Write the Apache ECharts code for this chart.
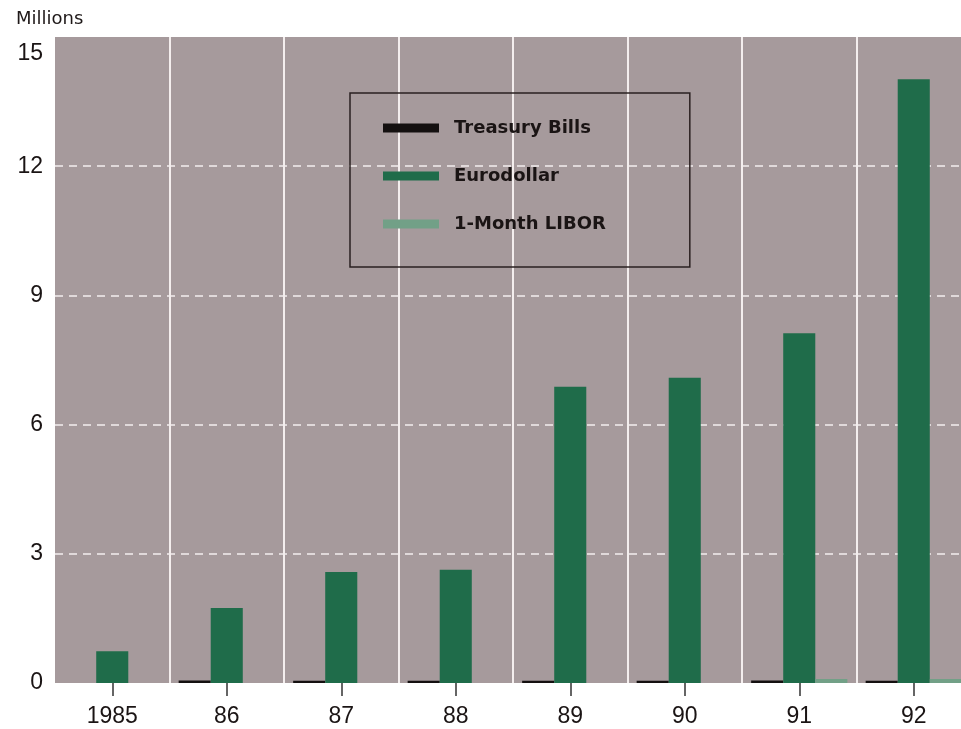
<!DOCTYPE html>
<html>
<head>
<meta charset="utf-8">
<script src="https://cdn.jsdelivr.net/npm/echarts@6/dist/echarts.min.js"></script>
<style>
  html, body { margin: 0; padding: 0; background: #ffffff; }
  #chart { width: 961px; height: 729px; }
</style>
</head>
<body>
<div id="chart"></div>
<script>
// Annual contract volume, in millions
const years = ['1985', '86', '87', '88', '89', '90', '91', '92'];
const treasuryBills = [0, 0.06, 0.05, 0.05, 0.05, 0.05, 0.06, 0.05];
const eurodollar = [0.74, 1.74, 2.58, 2.63, 6.88, 7.09, 8.12, 14.02];
const libor = [0, 0, 0, 0, 0, 0, 0.09, 0.09];
const yTicks = [0, 3, 6, 9, 12, 15];

const font = 'Liberation Sans, Arial, Helvetica, sans-serif';
const wideFont = 'DejaVu Sans, Verdana, sans-serif';
const plotBg = '#a69a9c';
const gridWhite = '#f4eeee';

const chart = echarts.init(document.getElementById('chart'));

// outer gridlines are hidden so that only 3..12 show as dashes
const hLineColors = yTicks.map((v, i) => (i === 0 || i === yTicks.length - 1) ? 'rgba(0,0,0,0)' : gridWhite);
const vLineColors = ['rgba(0,0,0,0)'].concat(years.map(() => gridWhite));

chart.setOption({
  animation: false,
  backgroundColor: '#ffffff',
  textStyle: { fontFamily: font },
  title: {
    text: 'Millions',
    left: 11,
    top: 5,
    textStyle: { fontSize: 18, fontWeight: 'normal', color: '#1e1818', fontFamily: wideFont }
  },
  legend: {
    orient: 'vertical',
    left: 350,
    top: 93,
    padding: [26, 84, 34, 33],
    itemWidth: 56,
    itemHeight: 9,
    itemGap: 30,
    borderColor: '#2a2020',
    borderWidth: 1.5,
    textStyle: { fontSize: 18, fontWeight: 'bold', color: '#1a1414', fontFamily: wideFont, padding: [0, 0, 0, 10] },
    data: [
      { name: 'Treasury Bills', icon: 'rect' },
      { name: 'Eurodollar', icon: 'rect' },
      { name: '1-Month LIBOR', icon: 'rect' }
    ]
  },
  grid: {
    left: 55,
    width: 916,
    top: 37,
    bottom: 46,
    outerBoundsMode: 'none',
    show: true,
    backgroundColor: plotBg,
    borderWidth: 0
  },
  xAxis: {
    type: 'category',
    data: years,
    axisLine: { show: false },
    axisTick: {
      show: true,
      alignWithLabel: true,
      length: 13,
      lineStyle: { color: '#333', width: 1.5 }
    },
    axisLabel: { fontSize: 23, color: '#1a1414', margin: 22, fontFamily: font },
    splitLine: { show: true, interval: 0, lineStyle: { color: vLineColors, width: 2 } }
  },
  yAxis: {
    type: 'value',
    min: yTicks[0],
    max: yTicks[yTicks.length - 1],
    interval: 3,
    axisLine: { show: false },
    axisTick: { show: false },
    axisLabel: {
      fontSize: 23,
      color: '#1a1414',
      margin: 12,
      fontFamily: font,
      formatter: v => (v === yTicks[yTicks.length - 1] ? '{top|' + v + '}' : String(v)),
      rich: { top: { fontSize: 23, fontFamily: font, color: '#1a1414', padding: [34, 0, 0, 0] } }
    },
    splitLine: { show: true, lineStyle: { color: hLineColors, width: 1.5, type: [8, 6] } }
  },
  series: [
    {
      name: 'Treasury Bills',
      type: 'bar',
      data: treasuryBills,
      itemStyle: { color: '#141010' },
      barGap: '0%',
      barCategoryGap: '16%'
    },
    {
      name: 'Eurodollar',
      type: 'bar',
      data: eurodollar,
      itemStyle: { color: '#1f6c4a' }
    },
    {
      name: '1-Month LIBOR',
      type: 'bar',
      data: libor,
      itemStyle: { color: '#72a087' }
    }
  ]
});
</script>
</body>
</html>
